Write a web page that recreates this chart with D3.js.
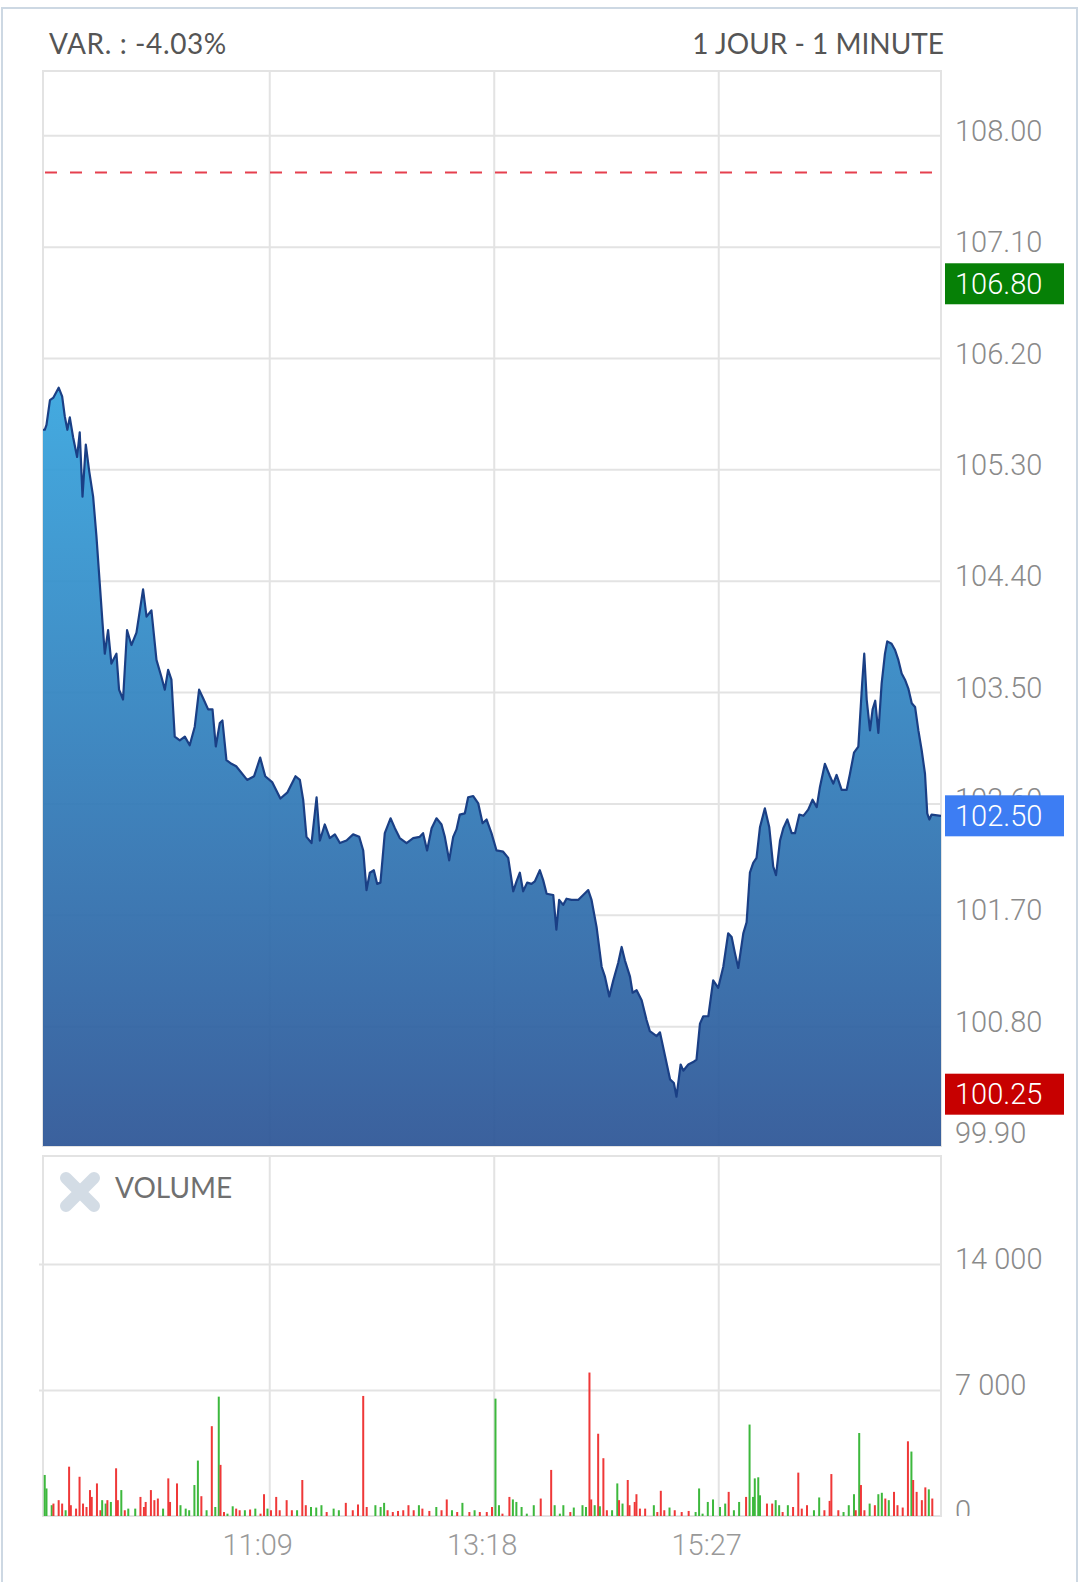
<!DOCTYPE html>
<html><head><meta charset="utf-8">
<script src="https://cdn.jsdelivr.net/npm/d3@7"></script>
<style>
html,body{margin:0;padding:0;background:#fff;}
svg{display:block;}
</style></head>
<body>
<div id="chart"></div>
<script>
// ---------------- DATA ----------------
const headerLeft = "VAR. : -4.03%";
const headerRight = "1 JOUR - 1 MINUTE";
const volumeTitle = "VOLUME";

// minutes since 09:00 and prices
const priceMinutes = [0,1,3,5,8,10,11.5,13,14.4,16.3,18.6,20.1,21.7,23.6,25.5,27.8,29.7,31.6,33.2,34.5,36.4,38.3,41.2,42.7,45,47.3,49.8,52.7,56.5,58.5,61.3,64.2,67.1,69,70.9,72.8,74.7,77.6,80.5,83.3,86.2,88.7,91,93.9,96.4,98.3,100.6,102.1,104.4,107.3,110,116.3,120.3,123.8,126.7,130.8,135.4,139.5,144.1,146.6,148.5,150.4,153.3,156.2,158.1,160.9,163.8,166.7,169.6,173.4,177.2,180.7,183,184.9,186.8,189.1,191,192.9,195.4,198.7,201.2,204,207.9,211.7,215.5,217.4,219.7,222.3,225.1,228,229.9,232.4,234.7,236.6,238.5,241.4,243.3,246.2,249.1,251.6,253.9,256.7,259.6,263.4,266.3,269.2,271.1,273,274.9,277.2,279.7,281.6,284.5,286.4,288.4,292.2,294,295.6,297.9,299.8,302.7,306.5,309.4,312.3,314.2,317.1,320,321.9,324.4,326.7,329.5,331.5,333.4,336.3,337.8,340.1,343,345.8,347.7,351.6,353.5,356.4,359.3,361.5,363,365.4,366.9,369.8,372.6,374.5,376.5,378.4,381.3,384.1,387,389.9,392.7,394.7,396.6,398.5,401.4,403.3,405.2,407.1,409,411,413.8,416.3,418.6,420.2,422.5,424.4,426.7,429.2,431.1,433.6,435.9,438.7,441.2,443.6,445.4,448.3,451.2,453.1,455,457.9,460.8,462.7,465,467.5,468.4,469.7,470.9,472.3,474.2,475.7,477.2,479,480.9,482.8,484.1,486.6,488.6,490.5,492.4,494.3,496.2,498.2,500.1,502,503.9,505.8,507.1,508.3,509.6,515];
const priceValues = [105.62,105.66,105.86,105.88,105.96,105.89,105.73,105.62,105.72,105.56,105.40,105.60,105.08,105.50,105.29,105.08,104.76,104.38,104.06,103.81,104.00,103.73,103.81,103.52,103.44,104.00,103.88,103.98,104.33,104.11,104.16,103.76,103.62,103.52,103.68,103.60,103.14,103.11,103.14,103.07,103.22,103.52,103.45,103.36,103.36,103.06,103.25,103.27,102.95,102.92,102.90,102.79,102.82,102.97,102.82,102.77,102.64,102.69,102.82,102.79,102.63,102.33,102.28,102.65,102.30,102.43,102.32,102.35,102.28,102.30,102.35,102.33,102.22,101.90,102.04,102.06,101.95,101.96,102.36,102.48,102.40,102.32,102.28,102.32,102.33,102.36,102.22,102.40,102.48,102.43,102.33,102.14,102.33,102.39,102.51,102.52,102.65,102.66,102.60,102.44,102.47,102.36,102.22,102.21,102.16,101.89,101.97,102.04,101.89,101.96,101.95,101.97,102.06,101.98,101.87,101.86,101.58,101.82,101.78,101.83,101.82,101.82,101.86,101.90,101.82,101.60,101.28,101.20,101.04,101.17,101.31,101.44,101.33,101.20,101.07,101.09,101.01,100.85,100.76,100.72,100.75,100.56,100.37,100.34,100.23,100.49,100.44,100.49,100.51,100.53,100.82,100.88,100.88,101.17,101.11,101.28,101.55,101.52,101.39,101.27,101.55,101.64,102.04,102.12,102.16,102.41,102.56,102.41,102.09,102.02,102.30,102.40,102.47,102.36,102.36,102.51,102.50,102.55,102.63,102.57,102.73,102.92,102.82,102.76,102.83,102.71,102.71,102.84,103.01,103.06,103.27,103.57,103.81,103.44,103.19,103.36,103.43,103.17,103.57,103.81,103.91,103.89,103.84,103.76,103.65,103.60,103.53,103.41,103.38,103.19,103.03,102.84,102.52,102.47,102.51,102.50];

// volume bars: minute since 09:00, volume, direction (u = up/green, d = down/red)
const volMinutes = [0,1,4,5,8,10,12,14,15,18,20,22,24,26,27,30,32,33,35,36,38,41,42,44,46,48,52,55,57,58,61,63,65,68,71,72,76,78,81,83,86,88,90,93,96,98,100,101,103,105,108,110,112,115,118,121,124,126,128,130,133,135,139,142,145,148,150,153,156,159,162,166,169,173,177,180,183,185,190,193,195,197,200,203,206,209,212,215,217,221,225,228,231,234,237,240,244,247,250,254,257,259,261,263,267,269,271,274,277,281,285,291,293,296,298,302,304,309,311,313,314,316,318,319,321,323,326,329,330,332,335,336,339,340,342,345,350,352,354,356,359,362,366,370,374,376,378,381,384,388,391,393,396,399,403,405,407,408,410,411,415,418,420,422,424,427,430,433,435,438,442,445,448,451,452,456,459,462,465,466,468,469,471,474,477,479,481,483,485,488,490,493,496,498,499,501,504,506,508,510];
const volValues = [2280,1530,600,690,880,690,320,2740,600,410,2180,690,500,1440,1060,1810,320,880,690,880,780,2650,880,1440,320,410,410,1060,500,780,1440,880,970,410,2090,780,1810,600,410,320,1720,3080,1100,320,4990,500,6630,2840,220,130,540,410,320,320,360,410,130,1210,410,320,1060,320,880,320,320,2000,600,500,470,600,220,410,320,730,320,640,6670,500,600,500,730,320,220,280,320,600,320,600,410,280,500,320,920,320,220,730,220,320,220,220,500,6520,600,130,1060,920,780,500,130,600,970,2560,600,130,600,220,470,600,500,7970,920,600,4570,540,3210,320,320,1810,880,690,2000,600,780,1210,410,410,600,220,1400,320,470,320,220,280,220,1530,130,780,920,500,690,1340,320,780,1060,5080,1060,2090,2150,1150,690,690,880,600,220,600,500,2410,410,600,320,1030,320,840,2330,320,220,600,1210,320,4610,1720,320,690,600,1210,1290,970,880,1340,600,470,4150,3580,2000,1340,880,1590,1480,970];
const volDirs = [
 "u","u","u","d","d","d","u","d","d","d","d","d","d","d","d","d","d","u","u","d","u","d","d","u","d","u","u","d","d","d",
 "d","d","d","u","d","d","d","u","u","u","u","u","d","u","d","u","u","d","d","u","u","d","d","u","d","u","d","d","u","d",
 "d","d","d","d","u","d","d","u","u","u","d","u","u","d","d","d","d","d","u","u","u","d","d","d","d","d","d","u","d","d",
 "u","d","d","u","d","u","d","u","d","d","d","u","u",
 "d","d","u","u","u","u","u","d","d","u","u","u","d","u","u","u","d","d","u","d","u","d","d","u","u","d","u","d","d","d",
 "d","d","d","u","d","d","d","u","d","d","d","u","u","u","u","u","u","u","d","u","u","d","u","u","u","u","u","d","d","u",
 "u","d","u","d","d","d","d","u","u","d","d","d","d","u","u","u","d","u","d","d","u","d","u","u","d","u","d","d","d","d",
 "u","d","d","d","d","u","d"];

const priceTicks = [99.90,100.80,101.70,102.60,103.50,104.40,105.30,106.20,107.10,108.00];
const volTicks = [0,7000,14000];
const timeTickMinutes = [129,258,387];
const timeTickLabels = ["11:09","13:18","15:27"];
const refLineValue = 107.70;
const markerValues = [106.80,102.50,100.25];
const markerKinds = ["prev","last","low"];

// ---------------- LAYOUT / STYLE ----------------
const W = 1080, H = 1582;
const P = {left:43, right:941, top:71, bottom:1146};
const V = {left:43, right:941, top:1156, bottom:1516};
const gridColor = "#e3e3e3";
const markerColor = {prev:"#068006", last:"#3d7df3", low:"#c70000"};
const axisFont = "Roboto, 'Liberation Sans', sans-serif";
const headFont = "Lato, 'Open Sans', sans-serif";

const svg = d3.select("#chart").append("svg").attr("width", W).attr("height", H);
svg.append("rect").attr("width", W).attr("height", H).attr("fill", "#fff");
const defs = svg.append("defs");

// card border
svg.append("path").attr("d", `M2,${H} V8 H1077 V${H}`).attr("fill","none")
  .attr("stroke","#cdd8e3").attr("stroke-width",2);

// header
svg.append("text").attr("x",49).attr("y",54).text(headerLeft)
  .attr("font-family",headFont).attr("font-size",28).attr("letter-spacing",0.6).attr("fill","#555");
svg.append("text").attr("x",944).attr("y",54).attr("text-anchor","end").text(headerRight)
  .attr("font-family",headFont).attr("font-size",28).attr("fill","#555");

// scales
const x = d3.scaleLinear().domain([-1, 515]).range([P.left, P.right]);
const y = d3.scaleLinear().domain([99.90, 108.00]).range([1137.5, 135.3]);
const yv = d3.scaleLinear().domain([0, 20000]).range([V.bottom, V.top]);

// ---- price panel ----
const pg = svg.append("g");
pg.append("g").attr("transform",`translate(${P.right},0)`)
  .call(d3.axisLeft(y).tickValues(priceTicks.filter(d=>d>100)).tickSize(P.right-P.left).tickFormat(""))
  .call(g=>g.select(".domain").remove())
  .call(g=>g.selectAll("line").attr("stroke",gridColor).attr("stroke-width",2));
pg.append("g").attr("transform",`translate(0,${P.bottom})`)
  .call(d3.axisBottom(x).tickValues(timeTickMinutes).tickSize(-(P.bottom-P.top)).tickFormat(""))
  .call(g=>g.select(".domain").remove())
  .call(g=>g.selectAll("line").attr("stroke",gridColor).attr("stroke-width",2));
pg.append("rect").attr("x",P.left).attr("y",P.top).attr("width",P.right-P.left).attr("height",P.bottom-P.top)
  .attr("fill","none").attr("stroke",gridColor).attr("stroke-width",2);

const grad = defs.append("linearGradient").attr("id","areaGrad").attr("gradientUnits","userSpaceOnUse")
  .attr("x1",0).attr("x2",0).attr("y1",y(d3.max(priceValues))).attr("y2",P.bottom);
grad.append("stop").attr("offset",0).attr("stop-color","#38a5de");
grad.append("stop").attr("offset",1).attr("stop-color","#2f5797");
defs.append("clipPath").attr("id","pclip").append("rect")
  .attr("x",P.left).attr("y",P.top).attr("width",P.right-P.left).attr("height",P.bottom-P.top);

const pts = [[-1, priceValues[0]]].concat(priceMinutes.map((m,i)=>[m,priceValues[i]]));
const area = d3.area().x(d=>x(d[0])).y0(P.bottom).y1(d=>y(d[1]));
const line = d3.line().x(d=>x(d[0])).y(d=>y(d[1]));
pg.append("path").datum(pts).attr("d",area).attr("fill","url(#areaGrad)").attr("fill-opacity",0.94)
  .attr("clip-path","url(#pclip)");
pg.append("path").datum(pts).attr("d",line).attr("fill","none").attr("stroke","#1a3f85")
  .attr("stroke-width",2.2).attr("stroke-linejoin","round").attr("clip-path","url(#pclip)");

// reference dashed line
pg.append("line").attr("x1",P.left+2).attr("x2",P.right).attr("y1",y(refLineValue)).attr("y2",y(refLineValue))
  .attr("stroke","#e5404e").attr("stroke-width",2).attr("stroke-dasharray","12,13");

// price axis labels
pg.append("g").attr("transform",`translate(${P.right},0)`)
  .call(d3.axisRight(y).tickValues(priceTicks).tickSize(0).tickPadding(14).tickFormat(d3.format(".2f")))
  .call(g=>g.select(".domain").remove())
  .call(g=>g.selectAll("text").attr("dy",5).attr("font-family",axisFont).attr("font-weight",300)
      .attr("font-size",29).attr("fill","#8a8a8a"));

// marker boxes
const mk = pg.append("g").selectAll("g").data(markerValues).join("g")
  .attr("transform",d=>`translate(945,${y(d)})`);
mk.append("rect").attr("x",0).attr("y",-20.5).attr("width",119).attr("height",41)
  .attr("fill",(d,i)=>markerColor[markerKinds[i]]);
mk.append("text").attr("x",10).attr("y",10).text(d=>d3.format(".2f")(d))
  .attr("font-family",axisFont).attr("font-weight",300).attr("font-size",29).attr("fill","#fff");

// ---- volume panel ----
const vg = svg.append("g");
vg.append("g").attr("transform",`translate(${V.right},0)`)
  .call(d3.axisLeft(yv).tickValues(volTicks.filter(d=>d>0)).tickSize(V.right-V.left+4).tickFormat(""))
  .call(g=>g.select(".domain").remove())
  .call(g=>g.selectAll("line").attr("stroke",gridColor).attr("stroke-width",2));
vg.append("g").attr("transform",`translate(0,${V.bottom})`)
  .call(d3.axisBottom(x).tickValues(timeTickMinutes).tickSize(-(V.bottom-V.top)).tickFormat(""))
  .call(g=>g.select(".domain").remove())
  .call(g=>g.selectAll("line").attr("stroke",gridColor).attr("stroke-width",2));
vg.append("rect").attr("x",V.left).attr("y",V.top).attr("width",V.right-V.left).attr("height",V.bottom-V.top)
  .attr("fill","none").attr("stroke",gridColor).attr("stroke-width",2);

const ic = vg.append("g").attr("transform","translate(80,1192)");
ic.append("path").attr("d","M-14,-14L14,14M14,-14L-14,14").attr("stroke","#d3dce5")
  .attr("stroke-width",12).attr("stroke-linecap","round");
vg.append("text").attr("x",115).attr("y",1198).text(volumeTitle)
  .attr("font-family",headFont).attr("font-size",28).attr("fill","#707070");

const bars = volMinutes.map((m,i)=>({m, v:volValues[i], d:volDirs[i]}));
vg.append("g").selectAll("rect").data(bars).join("rect")
  .attr("x",d=>x(d.m)-1).attr("width",2)
  .attr("y",d=>yv(d.v)).attr("height",d=>yv(0)-yv(d.v))
  .attr("fill",d=>d.d==="u"?"#3db83d":"#ef3838");

// volume axis labels (clipped at the baseline)
defs.append("clipPath").attr("id","vclip").append("rect").attr("x",V.right).attr("y",V.top)
  .attr("width",W-V.right).attr("height",V.bottom-V.top);
const frLocale = d3.formatLocale({decimal:",", thousands:"\u00a0", grouping:[3], currency:["","€"]});
vg.append("g").attr("clip-path","url(#vclip)").append("g").attr("transform",`translate(${V.right},0)`)
  .call(d3.axisRight(yv).tickValues(volTicks).tickSize(0).tickPadding(14).tickFormat(frLocale.format(",")))
  .call(g=>g.select(".domain").remove())
  .call(g=>g.selectAll("text").attr("dy",4).attr("font-family",axisFont).attr("font-weight",300)
      .attr("font-size",29).attr("fill","#8a8a8a"));

// time axis labels
vg.append("g").attr("transform",`translate(0,${V.bottom})`)
  .call(d3.axisBottom(x).tickValues(timeTickMinutes).tickSize(0).tickPadding(0)
     .tickFormat((d,i)=>timeTickLabels[i]))
  .call(g=>g.select(".domain").remove())
  .call(g=>g.selectAll("text").attr("dy",0).attr("y",39).attr("dx",-12).attr("font-family",axisFont).attr("font-weight",300)
      .attr("font-size",29).attr("fill","#999"));
</script>
</body></html>
